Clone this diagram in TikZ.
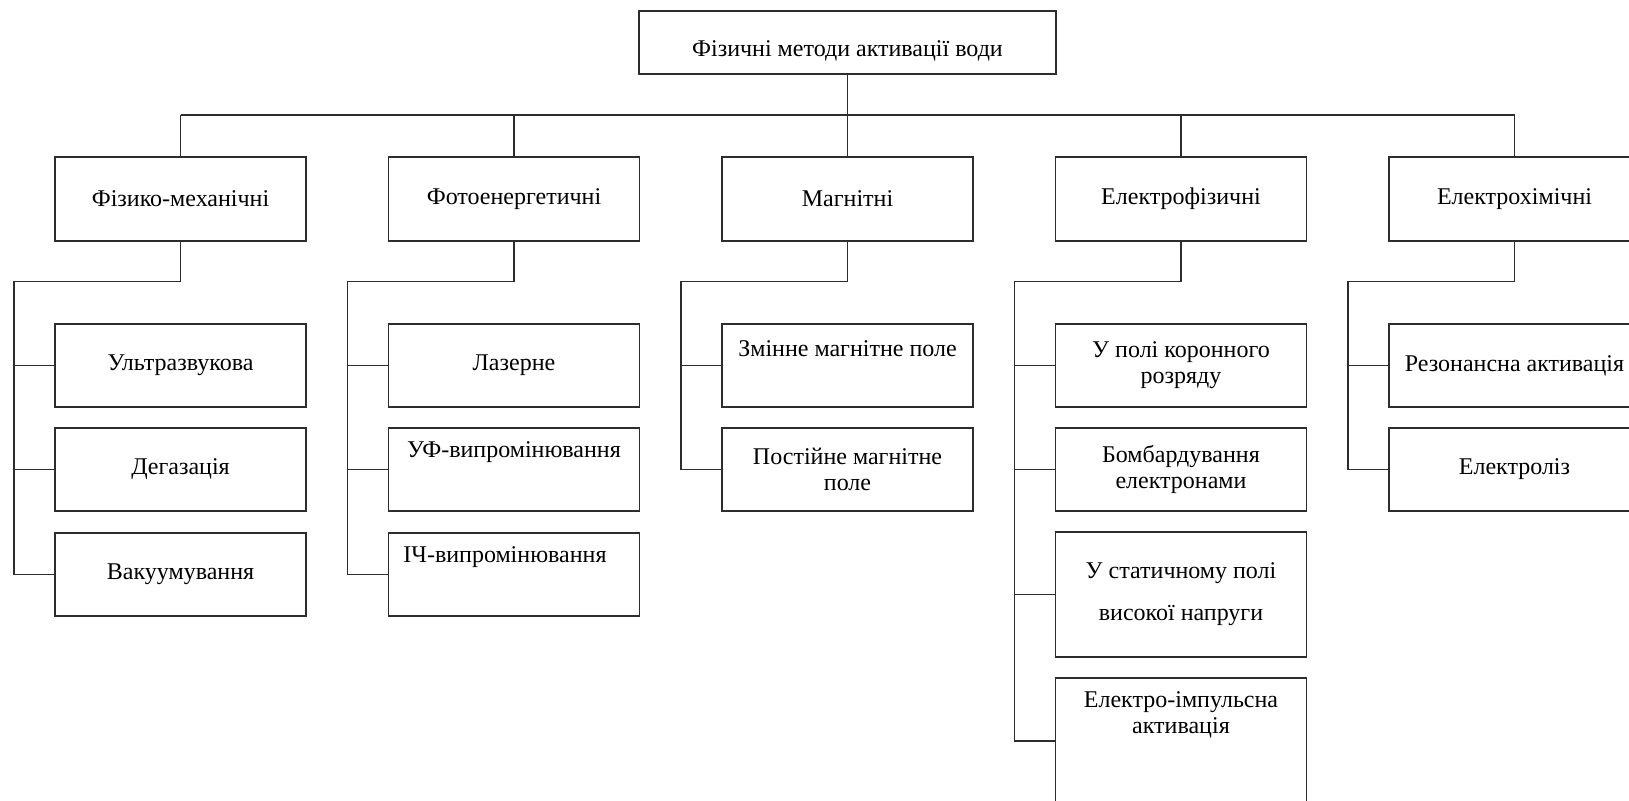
\documentclass[tikz,border=0pt]{standalone}
\usepackage{fontspec}
\setmainfont{Liberation Serif}
\definecolor{linegray}{RGB}{45,45,45}

\begin{document}
\begin{tikzpicture}[x=0.5pt, y=-0.5pt,
    box/.style={draw=linegray, line width=0.9pt, rectangle, inner sep=0pt, align=center,
      font=\fontsize{12}{13}\selectfont, minimum width=125.5pt, minimum height=41.5pt},
    tallbox/.style={box, minimum height=62.5pt},
    lbl/.style={inner sep=0pt, align=center, font=\fontsize{12}{13}\selectfont},
    conn/.style={draw=linegray, line width=0.9pt}]

  % Frame
  \useasboundingbox (0,0) rectangle (1629,801);
  \fill[white] (0,0) rectangle (1629,801);
  \clip (0,0) rectangle (1629,801);

  % Root
  \node[box, minimum width=208.5pt, minimum height=31.5pt,
    label={[lbl, name=topt, yshift=-4.25pt]center:Фізичні методи активації води}] (top) at (847.5,42.5) {};

  % Groups
  \node[box, minimum height=42pt] (g1) at (180.5,199) {Фізико-механічні};
  \node[box, minimum height=42pt] (g2) at (514,199) {Фотоенергетичні};
  \node[box, minimum height=42pt] (g3) at (847.5,199) {Магнітні};
  \node[box, minimum height=42pt] (g4) at (1181,199) {Електрофізичні};
  \node[box, minimum height=42pt] (g5) at (1514.5,199) {Електрохімічні};

  % Physical-mechanical
  \node[box] (c11) at (180.5,365.5) {Ультразвукова};
  \node[box] (c12) at (180.5,469.5) {Дегазація};
  \node[box] (c13) at (180.5,574.5) {Вакуумування};

  % Photo-energetic
  \node[box] (c21) at (514,365.5) {Лазерне};
  \node[box, label={[lbl, name=c22t, yshift=8.5pt]center:УФ-випромінювання}] (c22) at (514,469.5) {};
  \node[box, label={[lbl, name=c23t, yshift=8.5pt, xshift=-4.5pt]center:ІЧ-випромінювання}] (c23) at (514,574.5) {};

  % Magnetic
  \node[box, label={[lbl, name=c31t, yshift=8.5pt]center:Змінне магнітне поле}] (c31) at (847.5,365.5) {};
  \node[box] (c32) at (847.5,469.5) {Постійне магнітне\\поле};

  % Electro-physical
  \node[box] (c41) at (1181,365.5) {У полі коронного\\розряду};
  \node[box] (c42) at (1181,469.5) {Бомбардування\\електронами};
  \node[tallbox] (c43) at (1181,594.5) {У статичному полі\\[8pt]високої напруги};
  \node[tallbox, minimum height=63pt,
    label={[lbl, name=c44t, yshift=13.25pt]center:Електро-імпульсна\\активація}] (c44) at (1181,741) {};

  % Electro-chemical
  \node[box] (c51) at (1514.5,365.5) {Резонансна активація};
  \node[box] (c52) at (1514.5,469.5) {Електроліз};

  % Root to groups
  \coordinate (bus) at (0,115);
  \draw[conn] (top.south) -- (top.south |- bus);
  \draw[conn] (g1.north |- bus) -- (g5.north |- bus);
  \foreach \g in {1,...,5}
    \draw[conn] (g\g.north |- bus) -- (g\g.north);

  % Rails
  \coordinate (r1) at (14,281.5);
  \coordinate (r2) at (347.5,281.5);
  \coordinate (r3) at (681,281.5);
  \coordinate (r4) at (1014.5,281.5);
  \coordinate (r5) at (1348,281.5);

  \draw[conn] (g1.south) |- (r1) |- (c13.west);
  \draw[conn] (r1 |- c11.west) -- (c11.west);
  \draw[conn] (r1 |- c12.west) -- (c12.west);

  \draw[conn] (g2.south) |- (r2) |- (c23.west);
  \draw[conn] (r2 |- c21.west) -- (c21.west);
  \draw[conn] (r2 |- c22.west) -- (c22.west);

  \draw[conn] (g3.south) |- (r3) |- (c32.west);
  \draw[conn] (r3 |- c31.west) -- (c31.west);

  \draw[conn] (g4.south) |- (r4) |- (c44.west);
  \draw[conn] (r4 |- c41.west) -- (c41.west);
  \draw[conn] (r4 |- c42.west) -- (c42.west);
  \draw[conn] (r4 |- c43.west) -- (c43.west);

  \draw[conn] (g5.south) |- (r5) |- (c52.west);
  \draw[conn] (r5 |- c51.west) -- (c51.west);
\end{tikzpicture}
\end{document}
